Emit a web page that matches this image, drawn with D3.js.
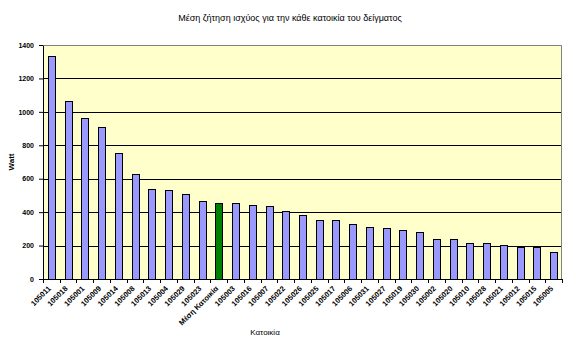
<!DOCTYPE html>
<html>
<head>
<meta charset="utf-8">
<script src="https://cdn.jsdelivr.net/npm/d3@7"></script>
<style>
  body { margin: 0; background: #fff; }
  text { font-family: "Liberation Sans", Arial, sans-serif; }
</style>
</head>
<body>
<svg id="chart" width="576" height="354"></svg>
<script>
// households (sorted by demand), the mean household is highlighted
const households = ['105011', '105018', '105001', '105009', '105014', '105008', '105013', '105004',
  '105029', '105023', 'Μέση Κατοικία', '105003', '105016', '105007', '105022', '105026', '105025',
  '105017', '105006', '105031', '105027', '105019', '105030', '105002', '105020', '105010', '105028',
  '105021', '105012', '105015', '105005']
const watts = [1335, 1065, 963, 910, 754, 628, 539, 533, 509, 465, 453, 453, 441, 435, 405, 381, 351,
  351, 327, 309, 303, 291, 279, 237, 237, 213, 213, 201, 189, 189, 159]
const yTicks = [0, 200, 400, 600, 800, 1000, 1200, 1400]
const meanLabel = 'Μέση Κατοικία'

const svg = d3.select('#chart')
const margin = {top: 45, right: 14, bottom: 75, left: 43}
const width = 576 - margin.left - margin.right
const height = 354 - margin.top - margin.bottom

// title
svg.append('text')
  .attr('x', 290)
  .attr('y', 21)
  .attr('text-anchor', 'middle')
  .attr('font-size', 9)
  .text('Μέση ζήτηση ισχύος για την κάθε κατοικία του δείγματος')

const g = svg.append('g')
  .attr('transform', `translate(${margin.left}, ${margin.top})`)

const x = d3.scaleBand()
  .domain(households)
  .range([0, width])
  .paddingInner(0.58)
  .paddingOuter(0.29)

const y = d3.scaleLinear()
  .domain([0, 1400])
  .range([height, 0])

// plot background
g.append('rect')
  .attr('width', width)
  .attr('height', height)
  .attr('fill', '#FFFFCC')

// gridlines
g.selectAll('.grid')
  .data(yTicks.slice(1, -1))
  .enter().append('line')
  .attr('x1', 0)
  .attr('x2', width)
  .attr('y1', d => Math.round(y(d)) + 0.5)
  .attr('y2', d => Math.round(y(d)) + 0.5)
  .attr('stroke', '#000')

// plot border top and right
g.append('path')
  .attr('d', `M0.5,0.5H${width - 0.5}V${height}`)
  .attr('fill', 'none')
  .attr('stroke', '#808080')

// bars
g.selectAll('.bar')
  .data(households)
  .enter().append('rect')
  .attr('x', d => Math.round(x(d)) + 0.5)
  .attr('y', (d, i) => Math.round(y(watts[i])) + 0.5)
  .attr('width', Math.round(x.bandwidth()))
  .attr('height', (d, i) => Math.round(height - y(watts[i])))
  .attr('fill', d => d === meanLabel ? '#008000' : '#9999FF')
  .attr('stroke', '#000')
  .attr('stroke-width', 1)

// y axis
const yAxis = g.append('g')
  .call(d3.axisLeft(y).tickValues(yTicks).tickFormat(d3.format('d')).tickSize(4).tickSizeOuter(0))
yAxis.select('.domain').attr('stroke', '#000')
yAxis.selectAll('text')
  .attr('font-size', 7)
  .attr('font-family', '"Liberation Sans", Arial, sans-serif')
  .attr('font-weight', 'bold')
  .attr('dx', '-2')

// x axis with ticks between categories
const step = x.step()
const xAxis = g.append('g')
  .attr('transform', `translate(0, ${height})`)
xAxis.append('line')
  .attr('x1', 0).attr('x2', width)
  .attr('y1', 0.5).attr('y2', 0.5)
  .attr('stroke', '#000')
xAxis.selectAll('.tick')
  .data(d3.range(households.length + 1))
  .enter().append('line')
  .attr('x1', i => Math.round(i * step) + 0.5)
  .attr('x2', i => Math.round(i * step) + 0.5)
  .attr('y1', 0)
  .attr('y2', 4)
  .attr('stroke', '#000')
xAxis.selectAll('.label')
  .data(households)
  .enter().append('text')
  .attr('transform', d => `translate(${x(d) + x.bandwidth() / 2}, 10) rotate(-45)`)
  .attr('text-anchor', 'end')
  .attr('font-size', 7.5)
  .attr('font-weight', 'bold')
  .text(d => d)

// axis titles
svg.append('text')
  .attr('transform', `translate(14, ${margin.top + height / 2}) rotate(-90)`)
  .attr('text-anchor', 'middle')
  .attr('font-size', 8)
  .attr('font-weight', 'bold')
  .text('Watt')

svg.append('text')
  .attr('x', 265)
  .attr('y', 335)
  .attr('text-anchor', 'middle')
  .attr('font-size', 8)
  .text('Κατοικία')
</script>
</body>
</html>
